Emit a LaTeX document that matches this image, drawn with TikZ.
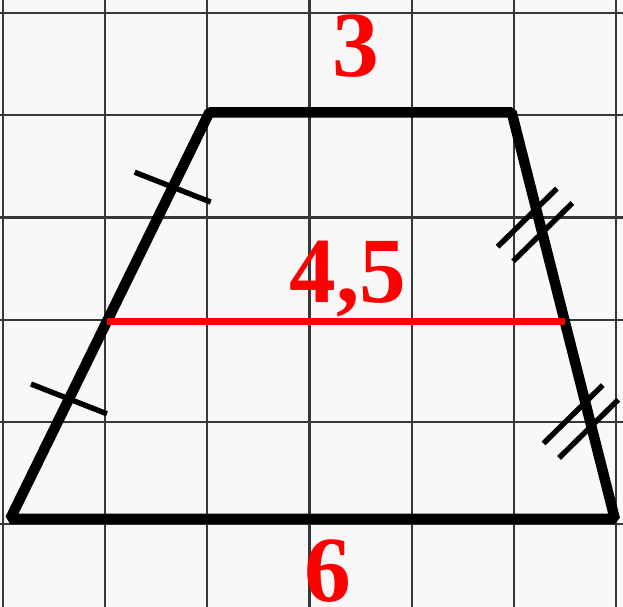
\documentclass[tikz,border=0pt]{standalone}
\usepackage{fontspec}
\setmainfont{Liberation Serif}
\usetikzlibrary{calc}
\definecolor{GridGray}{RGB}{55,55,55}
\definecolor{PaperWhite}{RGB}{248,248,248}
\definecolor{MidRed}{RGB}{255,0,0}
\tikzset{
  gridline/.style={draw=GridGray, line width=0.6pt},
  side/.style={draw=black, line width=2.9pt, line join=bevel},
  midline/.style={draw=MidRed, line width=1.95pt},
  hatch/.style={draw=black, line width=1.5pt},
  lbl/.style={text=MidRed, anchor=base, inner sep=0pt,
    font=\fontsize{26}{26}\selectfont\bfseries}
}

\begin{document}
\begin{tikzpicture}
  % paper and squares
  \fill[PaperWhite] (-0.03,-0.81) rectangle (6.07,5.13);
  \useasboundingbox (-0.03,-0.81) rectangle (6.07,5.13);
  \draw[gridline, step=1cm] (-0.03,-0.81) grid (6.07,5.13);

  % trapezoid
  \coordinate (A) at (0.07,0.05);
  \coordinate (B) at (5.99,0.05);
  \coordinate (C) at (4.98,4.03);
  \coordinate (D) at (2.02,4.03);
  \draw[side] (A) -- (B) -- (C) -- (D) -- cycle;

  % midline
  \coordinate (M1) at ($(A)!0.485!(D)$);
  \coordinate (M2) at ($(B)!0.485!(C)$);
  \draw[midline] (M1) -- (M2);

  % equal halves of the legs
  \coordinate (l1) at ($(A)!0.295!(D)$);
  \coordinate (l2) at ($(A)!0.816!(D)$);
  \draw[hatch] ($(l1)+(-0.372,0.146)$) -- ($(l1)+(0.372,-0.146)$);
  \draw[hatch] ($(l2)+(-0.372,0.146)$) -- ($(l2)+(0.372,-0.146)$);
  \coordinate (r1) at (5.208,2.928);
  \coordinate (r2) at (5.658,1.003);
  \draw[hatch] ($(r1)+(-0.366,-0.214)$) -- ($(r1)+(0.214,0.356)$);
  \draw[hatch] ($(r1)+(-0.214,-0.356)$) -- ($(r1)+(0.366,0.214)$);
  \draw[hatch] ($(r2)+(-0.366,-0.214)$) -- ($(r2)+(0.214,0.356)$);
  \draw[hatch] ($(r2)+(-0.214,-0.356)$) -- ($(r2)+(0.366,0.214)$);

  % lengths
  \node[lbl] (lenTop) at (3.454,4.384) {3};
  \node[lbl] (lenMid) at (3.376,2.172) {4,5};
  \node[lbl] (lenBot) at (3.18,-0.755) {6};
\end{tikzpicture}
\end{document}
